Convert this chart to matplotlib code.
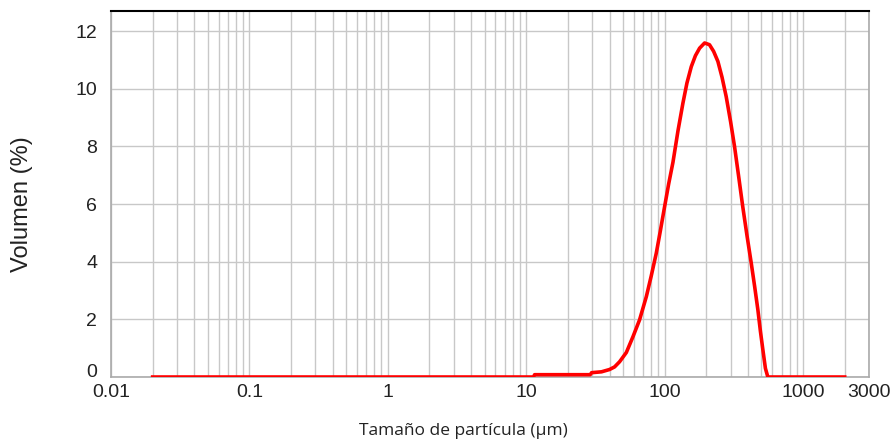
import numpy as np
import matplotlib.pyplot as plt
from matplotlib.ticker import FixedLocator, NullFormatter, LogLocator

# particle size (um) and volume (%)
size = [0.02, 11.3, 11.5, 29.0, 29.7, 35, 40, 43.5, 47.3, 52.9, 59.1, 65.9, 73.8, 80, 87.1,
        93, 100, 107, 114.9, 125, 135.6, 145, 155.9, 167, 179, 194.5, 211, 226, 242.7,
        260, 278.6, 300, 320, 343, 367, 394, 422.7, 447, 472, 492, 513, 535, 557, 2000]
volume = [0.0, 0.0, 0.08, 0.08, 0.15, 0.18, 0.26, 0.35, 0.53, 0.85, 1.4, 1.98, 2.79, 3.5,
          4.3, 5.05, 5.91, 6.7, 7.45, 8.55, 9.5, 10.2, 10.77, 11.15, 11.41, 11.59, 11.53,
          11.3, 10.95, 10.4, 9.73, 8.85, 8.0, 6.95, 5.91, 4.9, 3.95, 3.15, 2.33, 1.6,
          0.94, 0.3, 0.0, 0.0]

x_ticks = [0.01, 0.1, 1, 10, 100, 1000, 3000]
x_labels = ["0.01", "0.1", "1", "10", "100", "1000", "3000"]
y_ticks = [0, 2, 4, 6, 8, 10, 12]

fig = plt.figure(figsize=(8.95, 4.45), dpi=100)
ax = fig.add_axes([0.124, 0.1528, 0.847, 0.8225])

ax.plot(size, volume, color="#ff0000", lw=2.6, solid_joinstyle="round", zorder=3)

ax.set_xscale("log")
ax.set_xlim(0.01, 3000)
ax.set_ylim(0, 12.7)

ax.xaxis.set_major_locator(FixedLocator(x_ticks))
ax.set_xticklabels(x_labels)
ax.xaxis.set_minor_locator(LogLocator(base=10, subs=np.arange(2, 10), numticks=20))
ax.xaxis.set_minor_formatter(NullFormatter())
ax.set_yticks(y_ticks)

ax.grid(True, which="both", axis="x", color="#c8c8c8", lw=1)
ax.grid(True, which="major", axis="y", color="#c8c8c8", lw=1)
ax.set_axisbelow(True)

ax.tick_params(which="both", length=0, labelsize=14, colors="#222222")
ax.tick_params(axis="x", pad=5)
ax.tick_params(axis="y", pad=10)
for lab in ax.get_xticklabels() + ax.get_yticklabels():
    lab.set_family("Liberation Sans")
# the "0" sits on the axis line, clear of "0.01"
ax.get_yticklabels()[0].set_va("baseline")

for s in ["left", "bottom", "right"]:
    ax.spines[s].set_color("#aaaaaa")
    ax.spines[s].set_linewidth(1.2)
ax.spines["top"].set_color("black")
ax.spines["top"].set_linewidth(1.5)

fig.text(463 / 895, 1 - 431 / 445, "Tamaño de partícula (µm)", ha="center", va="center",
         fontsize=12.5, family="Open Sans", color="#222222")
fig.text(22 / 895, 1 - 204 / 445, "Volumen (%)", ha="center", va="center", rotation=90,
         fontsize=17, family="Liberation Sans", color="#222222")

plt.savefig("out.png", dpi=100)
